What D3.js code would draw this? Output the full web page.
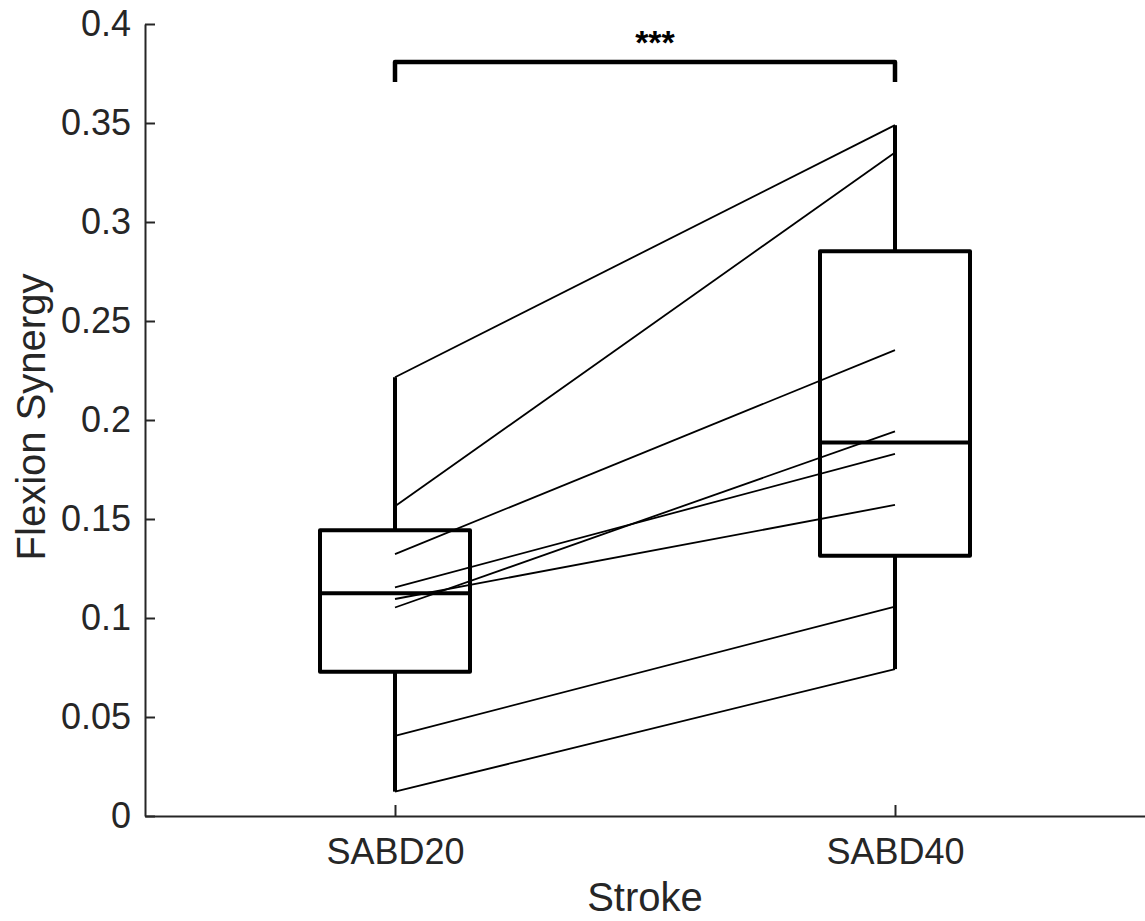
<!DOCTYPE html>
<html>
<head>
<meta charset="utf-8">
<script src="https://cdn.jsdelivr.net/npm/d3@7"></script>
<style>
  body { margin: 0; background: #fff; }
  svg { display: block; font-family: "Liberation Sans", Arial, sans-serif; }
</style>
</head>
<body>
<svg width="1145" height="921"></svg>
<script>
// data (one line per subject)
var conditions = ["SABD20", "SABD40"];
var sabd20 = [0.2216, 0.1564, 0.1323, 0.1155, 0.1096, 0.1053, 0.0405, 0.0123];
var sabd40 = [0.3489, 0.3351, 0.2353, 0.1829, 0.1571, 0.1943, 0.1058, 0.0742];
var yTicks = [0, 0.05, 0.1, 0.15, 0.2, 0.25, 0.3, 0.35, 0.4];
var sigLabel = "***";
var sigLevel = 0.3808, sigDrop = 0.3707;

var svg    = d3.select("svg"),
    width  = +svg.attr("width"),
    height = +svg.attr("height");

var axisColor = "#262626";

// scales
var xScale = d3.scaleLinear().domain([0.5, 2.5]).range([145, 1145]);
var yScale = d3.scaleLinear().domain([0, 0.4]).range([816, 24]);

// matlab style quantile (n*p + 0.5 position, linear interp)
function mquant(vals, p) {
  var s = vals.slice().sort(d3.ascending), n = s.length;
  var pos = n * p + 0.5;
  if (pos <= 1) return s[0];
  if (pos >= n) return s[n - 1];
  var lo = Math.floor(pos), f = pos - lo;
  return s[lo - 1] + f * (s[lo] - s[lo - 1]);
}

function boxStats(vals) {
  var q1 = mquant(vals, 0.25), med = mquant(vals, 0.5), q3 = mquant(vals, 0.75);
  var iqr = q3 - q1;
  var lo = d3.min(vals.filter(function(v){ return v >= q1 - 1.5*iqr; }));
  var hi = d3.max(vals.filter(function(v){ return v <= q3 + 1.5*iqr; }));
  return {q1: q1, med: med, q3: q3, lo: lo, hi: hi};
}

var groups = [sabd20, sabd40].map(function(vals, i) {
  return {x: i + 1, stats: boxStats(vals)};
});

// axes
var yAxis = d3.axisLeft(yScale)
  .tickValues(yTicks)
  .tickFormat(function(d){ return d3.format("")(+d.toFixed(2)); })
  .tickSizeInner(-10).tickSizeOuter(0).tickPadding(14);
var xAxis = d3.axisBottom(xScale)
  .tickValues([1, 2])
  .tickFormat(function(d){ return conditions[d - 1]; })
  .tickSizeInner(-11).tickSizeOuter(0).tickPadding(22);

var gY = svg.append("g")
  .attr("transform", "translate(" + xScale.range()[0] + ",0)")
  .call(yAxis);
var gX = svg.append("g")
  .attr("transform", "translate(0," + yScale(0) + ")")
  .call(xAxis);

[gX, gY].forEach(function(g) {
  g.selectAll("path, line").attr("stroke", axisColor).attr("stroke-width", 2);
  g.selectAll("text").attr("fill", axisColor).style("font-size", "36px")
    .style("font-family", "'Liberation Sans', Arial, sans-serif");
});

// axis titles
svg.append("text")
  .attr("x", (xScale(1) + xScale(2)) / 2)
  .attr("y", 911)
  .attr("text-anchor", "middle")
  .attr("fill", axisColor)
  .style("font-size", "40px")
  .text("Stroke");

svg.append("text")
  .attr("transform", "translate(45,417) rotate(-90)")
  .attr("text-anchor", "middle")
  .attr("fill", axisColor)
  .style("font-size", "40px")
  .text("Flexion Synergy");

// subject lines
var plot = svg.append("g");
plot.selectAll(".subj")
  .data(d3.range(sabd20.length))
  .enter().append("line")
    .attr("class", "subj")
    .attr("x1", xScale(1)).attr("y1", function(i){ return yScale(sabd20[i]); })
    .attr("x2", xScale(2)).attr("y2", function(i){ return yScale(sabd40[i]); })
    .attr("stroke", "#000").attr("stroke-width", 1.8);

// box plots
var boxW = 0.3;
var box = plot.selectAll(".box").data(groups).enter().append("g").attr("class", "box");

box.append("line")
  .attr("x1", function(d){ return xScale(d.x); }).attr("x2", function(d){ return xScale(d.x); })
  .attr("y1", function(d){ return yScale(d.stats.q3); }).attr("y2", function(d){ return yScale(d.stats.hi); });
box.append("line")
  .attr("x1", function(d){ return xScale(d.x); }).attr("x2", function(d){ return xScale(d.x); })
  .attr("y1", function(d){ return yScale(d.stats.q1); }).attr("y2", function(d){ return yScale(d.stats.lo); });
box.append("rect")
  .attr("x", function(d){ return xScale(d.x - boxW/2); })
  .attr("width", function(d){ return xScale(d.x + boxW/2) - xScale(d.x - boxW/2); })
  .attr("y", function(d){ return yScale(d.stats.q3); })
  .attr("height", function(d){ return yScale(d.stats.q1) - yScale(d.stats.q3); })
  .attr("fill", "none");
box.append("line")
  .attr("x1", function(d){ return xScale(d.x - boxW/2); }).attr("x2", function(d){ return xScale(d.x + boxW/2); })
  .attr("y1", function(d){ return yScale(d.stats.med); }).attr("y2", function(d){ return yScale(d.stats.med); });
box.selectAll("line, rect")
  .attr("stroke", "#000").attr("stroke-width", 4)
  .attr("stroke-linejoin", "round");

// significance bracket
svg.append("path")
  .attr("d", d3.line()([
    [xScale(1), yScale(sigDrop)], [xScale(1), yScale(sigLevel)],
    [xScale(2), yScale(sigLevel)], [xScale(2), yScale(sigDrop)]
  ]))
  .attr("fill", "none").attr("stroke", "#000").attr("stroke-width", 4.5)
  .attr("stroke-linejoin", "round");

svg.append("text")
  .attr("x", (xScale(1) + xScale(2)) / 2 + 10)
  .attr("y", yScale(sigLevel) - 8)
  .attr("text-anchor", "middle")
  .attr("fill", "#000")
  .style("font-size", "34px")
  .style("font-weight", "bold")
  .text(sigLabel);
</script>
</body>
</html>
